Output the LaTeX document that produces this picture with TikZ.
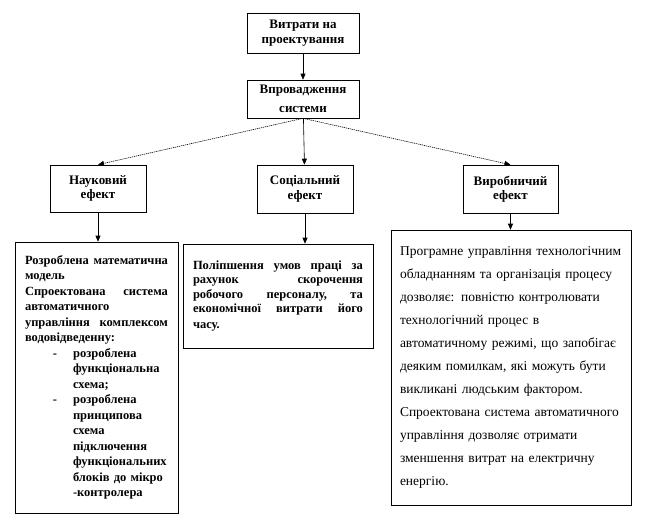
\documentclass[tikz,border=0pt]{standalone}
\usepackage{fontspec}
\setmainfont{Liberation Serif}
\usetikzlibrary{arrows.meta}
\newcommand{\HeadFont}{\fontsize{13}{14.5}\selectfont\bfseries}
\newcommand{\NoteFont}{\fontsize{12.5}{15.5}\selectfont\bfseries}
\newcommand{\PlainFont}{\fontsize{13.5}{23}\selectfont}
\newcommand{\GenericBox}[7]{
  \node [#1, minimum width=#5, minimum height=#6] (#2) at (#3, #4) {#7};
}
\newcommand{\HeadBox}[6]{
  \GenericBox{draw, line width=0.6pt, align=center, font=\HeadFont}{#1}{#2}{#3}{#4}{#5}{#6}
}
\newcommand{\NoteBox}[7]{
  \GenericBox{draw, line width=0.6pt, align=left, inner xsep=10pt, text width=#6, font=\NoteFont}{#1}{#2}{#3}{#4}{#5}{#7}
}
\newcommand{\StraightLink}[2]{
  \draw [->, line width=0.6pt] (#2) -- (#1);
}
\newcommand{\DottedLink}[2]{
  \draw [->, line width=0.6pt, dash pattern=on 1.2pt off 0.8pt] (#2) -- (#1);
}
\newcommand{\Dash}{\hspace*{28pt}-\hspace*{16pt}}
\newcommand{\Hang}{\hspace*{48pt}}

\begin{document}
\begin{tikzpicture}[x=1pt, y=-1pt, >={Triangle[length=6pt, width=5pt]}]
        \useasboundingbox (0, 0) rectangle (646, 525);

        % costs and implementation
        \HeadBox{cost}{303}{33}{112}{40}{Витрати на\\проектування}
        \HeadBox{impl}{303}{99}{112}{38}{Впровадження\\[4pt]системи}
        \StraightLink{impl}{cost}

        % three effects
        \HeadBox{science}{98}{188.5}{96}{47}{Науковий\\ефект}
        \HeadBox{social}{305}{189}{96}{48}{Соціальний\\ефект}
        \HeadBox{industry}{510.5}{189}{95}{48}{Виробничий\\ефект}
        \DottedLink{science.north}{impl.south}
        \StraightLink{social}{impl}
        \DottedLink{industry.north}{impl.south}

        % scientific effect notes
        \NoteBox{sciencenote}{96.5}{377.5}{163}{271}{143pt}{%
          Розроблена\hfill математична\\
          модель\\
          Спроектована\hfill система\\
          автоматичного\\
          управління\hfill комплексом\\
          водовідведенну:\\
          \Dash розроблена\\
          \Hang функціональна\\
          \Hang схема;\\
          \Dash розроблена\\
          \Hang принципова\\
          \Hang схема\\
          \Hang підключення\\
          \Hang функціональних\\
          \Hang блоків до мікро\\
          \Hang -контролера}
        \DottedLink{science.south |- sciencenote.north}{science.south}

        % social effect notes
        \NoteBox{socialnote}{278}{296}{190}{104}{170pt}{\fontsize{12.5}{14.5}\selectfont
          Поліпшення\hfill умов\hfill праці\hfill за\\
          рахунок\hfill скорочення\\
          робочого\hfill персоналу,\hfill та\\
          економічної\hfill витрати\hfill його\\
          часу.}
        \StraightLink{social.south |- socialnote.north}{social.south}

        % industrial effect notes
        \GenericBox{draw, line width=0.6pt, align=left, inner xsep=9pt, text width=222pt, font=\PlainFont}{industrynote}{511}{367.5}{240}{275}{%
          Програмне управління технологічним\\
          обладнанням та організація процесу\\
          дозволяє: повністю контролювати\\
          технологічний процес в\\
          автоматичному режимі, що запобігає\\
          деяким помилкам, які можуть бути\\
          викликані людським фактором.\\
          Спроектована система автоматичного\\
          управління дозволяє отримати\\
          зменшення витрат на електричну\\
          енергію.}
        \StraightLink{industry.south |- industrynote.north}{industry.south}

      \end{tikzpicture}
\end{document}
